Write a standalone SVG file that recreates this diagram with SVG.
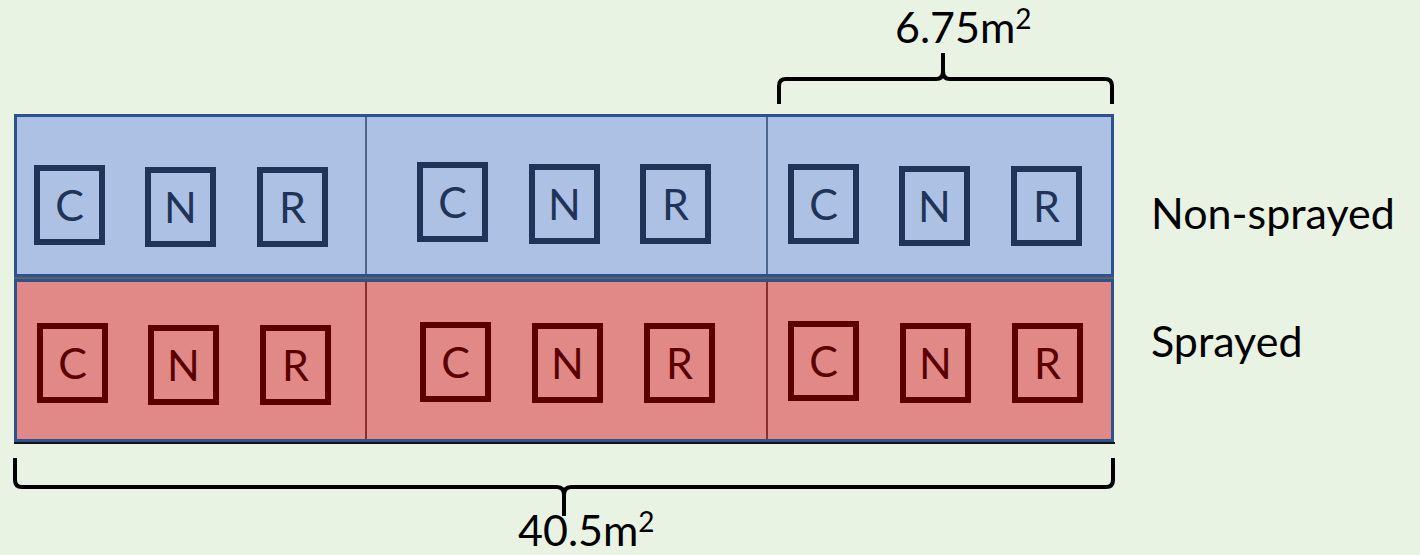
<svg xmlns="http://www.w3.org/2000/svg" width="1420" height="555" viewBox="0 0 1420 555">
<style>
.bg{fill:#E9F3E3}
.rowb{fill:#ADC1E4;stroke:#2F528F;stroke-width:3}
.rowr{fill:#E08987;stroke:#2F528F;stroke-width:3}
.divb{stroke:#2F4670;stroke-width:1.5}
.divr{stroke:#6E1010;stroke-width:1.5}
.bx-b{fill:none;stroke:#1F3458;stroke-width:6}
.bx-r{fill:none;stroke:#5A0000;stroke-width:6}
.lt{font-family:Lato,"Open Sans","Liberation Sans",sans-serif;font-size:43px;text-anchor:middle}
.lt-b{fill:#1F3458}
.lt-r{fill:#5A0000}
.lbl{font-family:Lato,"Open Sans","Liberation Sans",sans-serif;font-size:43px;fill:#000}
.brace{fill:none;stroke:#000;stroke-width:4;stroke-linecap:butt;stroke-linejoin:round}
</style>
<rect class="bg" x="0" y="0" width="1420" height="555"/>

<g id="row-nonsprayed">
<rect class="rowb" x="15.5" y="115.5" width="1097" height="160"/>
<line class="divb" x1="366" y1="117" x2="366" y2="274"/>
<line class="divb" x1="767" y1="117" x2="767" y2="274"/>
</g>
<line x1="14" y1="278" x2="1114" y2="278" stroke="#333" stroke-width="1.5"/>
<g id="row-sprayed">
<rect class="rowr" x="15.5" y="280.5" width="1097" height="160"/>
<line class="divr" x1="366" y1="282" x2="366" y2="439"/>
<line class="divr" x1="767" y1="282" x2="767" y2="439"/>
</g>
<line x1="14" y1="443" x2="1115" y2="443" stroke="#111" stroke-width="2"/>

<g id="ns-p1-C"><rect class="bx-b" x="37" y="168" width="65" height="74"/><text class="lt lt-b" x="69.5" y="221">C</text></g>
<g id="ns-p1-N"><rect class="bx-b" x="148" y="170" width="65" height="74"/><text class="lt lt-b" x="180.5" y="223">N</text></g>
<g id="ns-p1-R"><rect class="bx-b" x="260" y="170" width="65" height="74"/><text class="lt lt-b" x="292.5" y="223">R</text></g>
<g id="ns-p2-C"><rect class="bx-b" x="420" y="165" width="65" height="74"/><text class="lt lt-b" x="452.5" y="218">C</text></g>
<g id="ns-p2-N"><rect class="bx-b" x="532" y="167" width="65" height="74"/><text class="lt lt-b" x="564.5" y="220">N</text></g>
<g id="ns-p2-R"><rect class="bx-b" x="643" y="167" width="65" height="74"/><text class="lt lt-b" x="675.5" y="220">R</text></g>
<g id="ns-p3-C"><rect class="bx-b" x="791" y="167" width="65" height="74"/><text class="lt lt-b" x="823.5" y="220">C</text></g>
<g id="ns-p3-N"><rect class="bx-b" x="902" y="169" width="65" height="74"/><text class="lt lt-b" x="934.5" y="222">N</text></g>
<g id="ns-p3-R"><rect class="bx-b" x="1014" y="169" width="65" height="74"/><text class="lt lt-b" x="1046.5" y="222">R</text></g>

<g id="s-p1-C"><rect class="bx-r" x="40" y="326" width="65" height="74"/><text class="lt lt-r" x="72.5" y="379">C</text></g>
<g id="s-p1-N"><rect class="bx-r" x="151" y="328" width="65" height="74"/><text class="lt lt-r" x="183.5" y="381">N</text></g>
<g id="s-p1-R"><rect class="bx-r" x="263" y="328" width="65" height="74"/><text class="lt lt-r" x="295.5" y="381">R</text></g>
<g id="s-p2-C"><rect class="bx-r" x="423" y="325" width="65" height="74"/><text class="lt lt-r" x="455.5" y="378">C</text></g>
<g id="s-p2-N"><rect class="bx-r" x="535" y="326" width="65" height="74"/><text class="lt lt-r" x="567.5" y="379">N</text></g>
<g id="s-p2-R"><rect class="bx-r" x="647" y="326" width="65" height="74"/><text class="lt lt-r" x="679.5" y="379">R</text></g>
<g id="s-p3-C"><rect class="bx-r" x="791" y="324" width="65" height="74"/><text class="lt lt-r" x="823.5" y="377">C</text></g>
<g id="s-p3-N"><rect class="bx-r" x="903" y="326" width="65" height="74"/><text class="lt lt-r" x="935.5" y="379">N</text></g>
<g id="s-p3-R"><rect class="bx-r" x="1015" y="326" width="65" height="74"/><text class="lt lt-r" x="1047.5" y="379">R</text></g>

<g id="connectors">
<path class="brace" d="M779,104 L779,86 Q779,79 786,79 L936,79 Q943,79 943,71 L943,53 M943,71 Q943,79 950,79 L1105,79 Q1112,79 1112,86 L1112,104"/>
<path class="brace" d="M15,458 L15,480 Q15,487 22,487 L557,487 Q564,487 564,495 L564,516 M564,495 Q564,487 571,487 L1106,487 Q1113,487 1113,480 L1113,458"/>
</g>

<g id="labels">
<text class="lbl" x="895" y="43">6.75m<tspan font-size="28" dy="-14">2</tspan></text>
<text class="lbl" x="518" y="546">40.5m<tspan font-size="28" dy="-14">2</tspan></text>
<text class="lbl" x="1151" y="229">Non-sprayed</text>
<text class="lbl" x="1151" y="357">Sprayed</text>
</g>
</svg>
